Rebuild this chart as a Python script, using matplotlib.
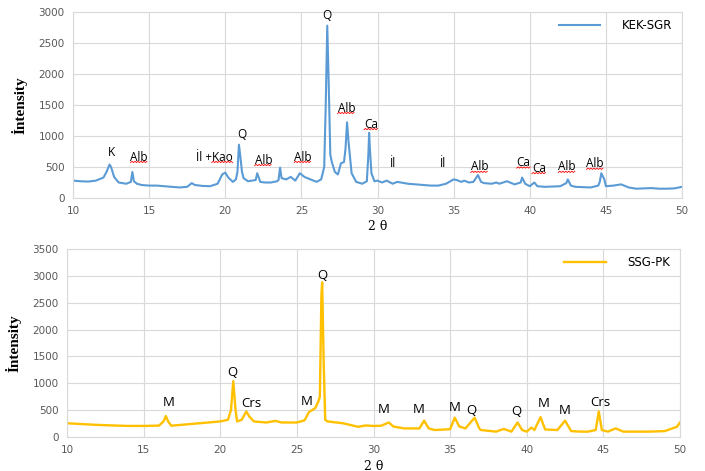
import matplotlib
matplotlib.use("Agg")
import matplotlib.pyplot as plt
from matplotlib.lines import Line2D
from matplotlib.transforms import IdentityTransform
import numpy as np

# KEK-SGR pattern (2theta, intensity)
kek_2t = [10, 10.5, 11, 11.5, 12, 12.2, 12.3, 12.4, 12.5, 12.6, 12.7, 13, 13.5, 13.8, 13.9, 14.0, 14.2,
          14.5, 15, 15.5, 16, 16.5, 17, 17.5, 17.8, 18, 18.5, 19, 19.5, 19.8, 20.0, 20.2, 20.5, 20.7,
          20.8, 20.9, 21.0, 21.1, 21.2, 21.5, 22, 22.1, 22.3, 22.6, 23, 23.4, 23.5, 23.6, 23.7, 24,
          24.3, 24.6, 24.9, 25.2, 25.5, 26, 26.3, 26.5, 26.6, 26.7, 26.8, 26.9, 27.0, 27.2, 27.4,
          27.6, 27.8, 27.9, 28.0, 28.1, 28.3, 28.6, 29, 29.3, 29.4, 29.45, 29.5, 29.6, 29.8, 30, 30.3,
          30.6, 31, 31.3, 32, 32.5, 33, 33.5, 34, 34.5, 35, 35.2, 35.5, 35.7, 36, 36.3, 36.6, 36.8,
          37, 37.5, 37.8, 38, 38.5, 39, 39.4, 39.5, 39.7, 40, 40.3, 40.5, 41, 41.5, 42, 42.4, 42.5,
          42.7, 43, 43.5, 44, 44.5, 44.6, 44.7, 44.9, 45, 45.5, 46, 46.5, 47, 47.5, 48, 48.5, 49,
          49.5, 50]
kek_int = [280, 270, 265, 280, 330, 420, 480, 540, 500, 420, 340, 250, 230, 260, 420, 270, 230,
           210, 200, 200, 190, 180, 170, 180, 240, 210, 195, 190, 230, 380, 410, 330, 260, 300,
           420, 860, 650, 420, 320, 270, 290, 400, 260, 250, 250, 270, 290, 490, 320, 300,
           340, 280, 400, 340, 310, 260, 300, 500, 1500, 2780, 1800, 700, 580, 420, 380,
           560, 580, 800, 1220, 900, 400, 260, 230, 270, 700, 1050, 800, 400, 270, 280, 250,
           280, 230, 260, 230, 220, 210, 200, 200, 230, 300, 290, 260, 280, 250, 260, 370, 260,
           240, 230, 250, 230, 270, 220, 250, 330, 230, 190, 250, 190, 180, 185, 190, 240, 300,
           200, 180, 175, 170, 200, 260, 400, 300, 190, 200, 220, 170, 150, 155, 160, 150, 150,
           155, 180]

# SSG-PK pattern
ssg_2t = [10, 11, 12, 13, 14, 15, 16, 16.3, 16.45, 16.6, 16.8, 17, 18, 19, 20, 20.5, 20.7, 20.85,
          21, 21.1, 21.4, 21.7, 21.9, 22.2, 23, 23.6, 24, 25, 25.5, 25.8, 26.0, 26.2, 26.4, 26.5,
          26.6, 26.65, 26.75, 26.85, 27, 28, 29, 29.5, 30, 30.5, 31, 31.3, 32, 33, 33.3, 33.6, 34,
          35, 35.3, 35.6, 36, 36.6, 36.9, 37, 38, 38.5, 39, 39.4, 39.7, 40, 40.3, 40.5, 40.9, 41.2,
          42, 42.5, 42.9, 43.5, 44, 44.5, 44.7, 44.9, 45.3, 45.8, 46.3, 47, 48, 49, 49.8, 50]
ssg_int = [256, 240, 225, 215, 206, 206, 212, 290, 390, 290, 210, 215, 240, 265, 290, 320, 500, 1040,
           500, 290, 320, 475, 380, 290, 270, 300, 270, 270, 310, 470, 500, 540, 660, 750,
           2630, 2880, 1380, 320, 290, 256, 190, 215, 205, 210, 270, 195, 160, 160, 305, 160, 130,
           145, 360, 195, 160, 360, 160, 130, 100, 150, 100, 270, 130, 100, 175, 130, 370, 140,
           130, 305, 110, 100, 100, 130, 475, 130, 100, 160, 100, 100, 100, 110, 190, 270]

# peak labels: (text, 2theta, intensity, wavy underline)
kek_labels = [("K", 12.5, 740, False), ("Alb", 14.35, 660, True), ("İl +Kao", 19.3, 660, True),
              ("Q", 21.1, 1030, False), ("Alb", 22.5, 610, True), ("Alb", 25.1, 660, True),
              ("Q", 26.7, 2950, False), ("Alb", 27.95, 1450, True), ("Ca", 29.57, 1190, True),
              ("İl", 31.0, 560, False), ("İl", 34.3, 560, False), ("Alb", 36.7, 500, True),
              ("Ca", 39.6, 570, True), ("Ca", 40.6, 480, True), ("Alb", 42.45, 500, True),
              ("Alb", 44.3, 550, True)]
ssg_labels = [("M", 16.65, 650), ("Q", 20.77, 1210), ("Crs", 22.0, 630), ("M", 25.65, 670),
              ("Q", 26.65, 3000), ("M", 30.68, 520), ("M", 32.96, 520), ("M", 35.3, 540),
              ("Q", 36.4, 500), ("Q", 39.35, 470), ("M", 41.1, 630), ("M", 42.5, 500),
              ("Crs", 44.8, 650)]

W, H = 705, 471
fig = plt.figure(figsize=(W / 100, H / 100), dpi=100)
ax1 = fig.add_axes([73 / W, 1 - 198 / H, (682 - 73) / W, (198 - 12) / H])
ax2 = fig.add_axes([67 / W, 1 - 437 / H, (680 - 67) / W, (437 - 249) / H])

grid_c = "#D9D9D9"
tick_c = "#595959"


def style(ax, ymax, ystep):
    ax.set_xlim(10, 50)
    ax.set_ylim(0, ymax)
    ax.set_xticks(np.arange(10, 51, 5))
    ax.set_yticks(np.arange(0, ymax + 1, ystep))
    ax.grid(True, color=grid_c, linewidth=0.8)
    ax.set_axisbelow(True)
    for s in ax.spines.values():
        s.set_color(grid_c)
        s.set_linewidth(0.8)
    ax.tick_params(length=0, labelsize=7.5, labelcolor=tick_c, pad=6)
    ax.set_ylabel("İntensity", family="Liberation Serif", fontsize=11, fontweight="bold", labelpad=8)
    ax.set_xlabel("2 θ", family="DejaVu Serif", fontsize=9, labelpad=3)


style(ax1, 3000, 500)
style(ax2, 3500, 500)

ax1.plot(kek_2t, kek_int, color="#5B9BD5", linewidth=1.5, label="KEK-SGR")
ax2.plot(ssg_2t, ssg_int, color="#FFC000", linewidth=1.7, label="SSG-PK")

for ax in (ax1, ax2):
    ax.legend(loc="upper right", frameon=False, fontsize=8.5, handlelength=3.5,
              handletextpad=1.8, borderaxespad=0.2, bbox_to_anchor=(0.995, 1.0))

under = []
for txt, x, y, wavy in kek_labels:
    t = ax1.text(x, y, txt, ha="center", va="center", fontsize=8.5, family="Open Sans")
    if wavy:
        under.append(t)
for txt, x, y in ssg_labels:
    ax2.text(x, y, txt, ha="center", va="center", fontsize=9.5, family="Open Sans")

# red spell-check squiggles under some labels
fig.canvas.draw()
r = fig.canvas.get_renderer()
for t in under:
    bb = t.get_window_extent(r)
    x0 = bb.x0 + (0.42 * bb.width if t.get_text().startswith("İl") else 0)
    xs = np.arange(x0, bb.x1, 1.5)
    ys = bb.y0 + 1.0 + np.where(np.arange(len(xs)) % 2 == 0, 0.0, 1.3)
    fig.add_artist(Line2D(xs, ys, color="red", linewidth=0.6, transform=IdentityTransform()))

fig.savefig("out.png", dpi=100)
